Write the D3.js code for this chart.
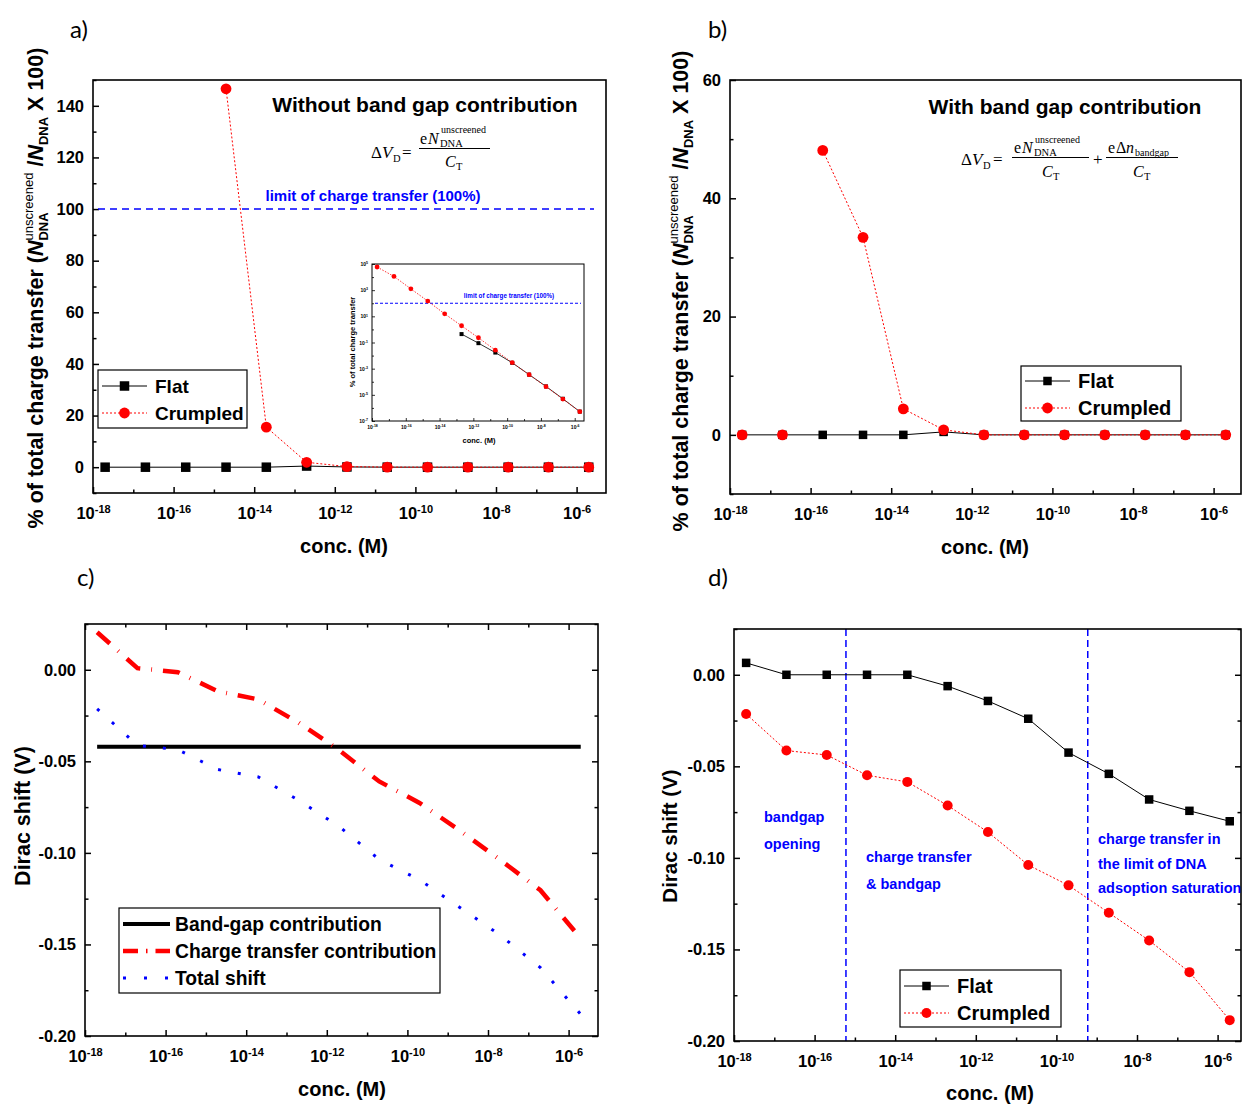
<!DOCTYPE html>
<html><head><meta charset="utf-8">
<script src="https://cdn.jsdelivr.net/npm/d3@7"></script>
<style>body{margin:0;background:#fff}svg{display:block}</style>
</head><body>
<script>
// Concentrations (M) shared by every panel
const conc = [2e-18, 2e-17, 2e-16, 2e-15, 2e-14, 2e-13, 2e-12, 2e-11, 2e-10, 2e-9, 2e-8, 2e-7, 2e-6];

// a) % of total charge transfer, without band gap contribution
const flatPctA     = [0, 0, 0, 0, 0, 0.44, 0.089, 0.017, 0.0028, 0.00035, 0.000044, 0.000005, 0.00000052];
const crumpledPctA = [58900, 11200, 1260, 146.6, 15.5, 1.9, 0.23, 0.026, 0.0029, 0.00035, 0.000042, 0.0000047, 0.00000052];
const limitPct = 100;

// b) % of total charge transfer, with band gap contribution
const flatPctB     = [0, 0, 0, 0, 0, 0.5, 0, 0, 0, 0, 0, 0, 0];
const crumpledPctB = [0, 0, 48.1, 33.4, 4.4, 0.85, 0, 0, 0, 0, 0, 0, 0];
const crumpledLinkStartB = 2;   // connecting line of the crumpled curve begins at 2e-16 M

// c) Dirac shift contributions (V)
const bandGapShift        = [-0.042, -0.042, -0.042, -0.042, -0.042, -0.042, -0.042, -0.042, -0.042, -0.042, -0.042, -0.042, -0.042];
const chargeTransferShift = [0.0205, 0.0009, -0.0013, -0.0118, -0.0162, -0.0289, -0.0438, -0.0610, -0.0727, -0.0878, -0.1038, -0.1204, -0.1467];
const totalShift          = [-0.0213, -0.0413, -0.0436, -0.0545, -0.0585, -0.0713, -0.0855, -0.1036, -0.1147, -0.1298, -0.1449, -0.1627, -0.1882];

// d) Dirac shift (V), flat vs crumpled
const flatShift     = [0.0065, 0.0, 0.0, 0.0, 0.0, -0.0062, -0.0143, -0.0240, -0.0425, -0.0541, -0.0681, -0.0743, -0.0800];
const crumpledShift = [-0.0214, -0.0414, -0.0438, -0.0549, -0.0585, -0.0714, -0.0859, -0.1039, -0.1150, -0.1300, -0.1451, -0.1624, -0.1886];
const regionBounds  = [6e-16, 6e-10];

// tick values
const xMajorExp = [-18, -16, -14, -12, -10, -8, -6];
const xMinorExp = [-17, -15, -13, -11, -9, -7];
const yMajorPct = [0, 20, 40, 60, 80, 100, 120, 140];
const yMinorPct = [-10, 10, 30, 50, 70, 90, 110, 130, 150];
const yMajorPctB = [0, 20, 40, 60];
const yMinorPctB = [-10, 10, 30, 50];
const yMajorV = [0, -0.05, -0.10, -0.15, -0.20];
const yMinorV = [0.025, -0.025, -0.075, -0.125, -0.175];
const insetYExp = [5, 4, 3, 2, 1, 0, -1, -2, -3, -4, -5, -6, -7];

const SANS = "'Liberation Sans', Arial, sans-serif";
const SERIF = "'Liberation Serif', 'Times New Roman', serif";
const TAG = "Lato, 'Open Sans', sans-serif";
const RED = "#ff0000", BLUE = "#0000ff";
const DECADE_PX = 40.3;
const pow10 = e => Number("1e" + e);
const fmtV = d => d3.format(".2f")(d).replace("\u2212", "-");

const svg = d3.select("body").append("svg").attr("width", 1243).attr("height", 1105)
  .attr("font-family", SANS);

function styleAxis(g, size) {
  g.attr("font-family", SANS).attr("font-size", size).attr("font-weight", "bold");
  g.select(".domain").remove();
  g.selectAll(".tick line").attr("stroke", "#000").attr("stroke-width", 1.5);
  g.selectAll(".tick text").attr("fill", "#000");
}

function expLabels(g, supSize) {
  g.selectAll(".tick text").each(function (d) {
    const e = Math.round(Math.log10(d));
    const t = d3.select(this).text("10");
    t.append("tspan").attr("dy", "-0.55em").attr("font-size", supSize).text(e);
  });
}

function setupPanel(o) {
  const x = d3.scaleLog()
    .domain([1e-18, Math.pow(10, -18 + (o.right - o.left) / DECADE_PX)])
    .range([o.left, o.right]);
  const y = d3.scaleLinear().domain(o.yDomain).range([o.bottom, o.top]);
  const g = svg.append("g");
  svg.append("clipPath").attr("id", "clip-" + o.id).append("rect")
    .attr("x", o.left).attr("y", o.top).attr("width", o.right - o.left).attr("height", o.bottom - o.top);

  // bottom axis
  g.append("g").attr("transform", `translate(0,${o.bottom})`)
    .call(d3.axisBottom(x).tickValues(xMajorExp.map(pow10)).tickSize(-6).tickPadding(14))
    .call(a => { styleAxis(a, 16.5); expLabels(a, 11); });
  g.append("g").attr("transform", `translate(0,${o.bottom})`)
    .call(d3.axisBottom(x).tickValues(xMinorExp.map(pow10)).tickSize(-3.5).tickFormat(""))
    .call(a => styleAxis(a, 16));
  // left axis
  g.append("g").attr("transform", `translate(${o.left},0)`)
    .call(d3.axisLeft(y).tickValues(o.yMajor).tickSize(-6).tickPadding(9).tickFormat(o.yFmt))
    .call(a => styleAxis(a, 16.5));
  g.append("g").attr("transform", `translate(${o.left},0)`)
    .call(d3.axisLeft(y).tickValues(o.yMinor.filter(v => v >= o.yDomain[0] && v <= o.yDomain[1])).tickSize(-3.5).tickFormat(""))
    .call(a => styleAxis(a, 16));
  if (o.mirrorY) {
    g.append("g").attr("transform", `translate(${o.right},0)`)
      .call(d3.axisRight(y).tickValues(o.yMajor).tickSize(-6).tickFormat(""))
      .call(a => styleAxis(a, 16));
    g.append("g").attr("transform", `translate(${o.right},0)`)
      .call(d3.axisRight(y).tickValues(o.yMinor.filter(v => v >= o.yDomain[0] && v <= o.yDomain[1])).tickSize(-3.5).tickFormat(""))
      .call(a => styleAxis(a, 16));
  }
  if (o.mirrorX) {
    g.append("g").attr("transform", `translate(0,${o.top})`)
      .call(d3.axisTop(x).tickValues(xMajorExp.map(pow10)).tickSize(-6).tickFormat(""))
      .call(a => styleAxis(a, 16));
    g.append("g").attr("transform", `translate(0,${o.top})`)
      .call(d3.axisTop(x).tickValues(xMinorExp.map(pow10)).tickSize(-3.5).tickFormat(""))
      .call(a => styleAxis(a, 16));
  }
  const data = g.append("g").attr("clip-path", `url(#clip-${o.id})`);
  return { x, y, g, data, o };
}

function frame(p) {
  const o = p.o;
  p.g.append("rect").attr("x", o.left).attr("y", o.top)
    .attr("width", o.right - o.left).attr("height", o.bottom - o.top)
    .attr("fill", "none").attr("stroke", "#000").attr("stroke-width", 1.6);
}

function titles(p, xLabel, xy, tag, tagXY) {
  p.g.append("text").attr("x", xy[0]).attr("y", xy[1]).attr("text-anchor", "middle")
    .attr("font-size", 20).attr("font-weight", "bold").text(xLabel);
  svg.append("text").attr("x", tagXY[0]).attr("y", tagXY[1]).attr("font-family", TAG)
    .attr("font-size", 24).text(tag);
}

// "% of total charge transfer (N^unscreened_DNA /N_DNA X 100)"
function chargeYLabel(cx, cy) {
  const t = svg.append("text").attr("transform", `translate(${cx},${cy}) rotate(-90)`)
    .attr("text-anchor", "middle").attr("dy", "0.35em")
    .attr("font-size", 21.5).attr("font-weight", "bold");
  t.append("tspan").text("% of total charge transfer (");
  t.append("tspan").attr("font-style", "italic").text("N");
  const sub = t.append("tspan").attr("font-size", 13).attr("dy", 5).text("DNA");
  const sup = t.append("tspan").attr("font-size", 13).attr("font-weight", "normal").attr("dy", -15).text("unscreened");
  t.append("tspan").attr("dy", 10).text(" /");
  t.append("tspan").attr("font-style", "italic").text("N");
  t.append("tspan").attr("font-size", 13).attr("dy", 5).text("DNA");
  t.append("tspan").attr("dy", -5).text(" X 100)");
  sup.attr("dx", -sub.node().getComputedTextLength());
}

function plainYLabel(text, cx, cy, size) {
  svg.append("text").attr("transform", `translate(${cx},${cy}) rotate(-90)`)
    .attr("text-anchor", "middle").attr("dy", "0.35em")
    .attr("font-size", size).attr("font-weight", "bold").text(text);
}

function flatCrumpled(p, flat, crumpled, defFlat, defCrumpled, defCrumpledLine, sq, r) {
  const fl = conc.map((c, i) => ({ c, v: flat[i], i }));
  const cr = conc.map((c, i) => ({ c, v: crumpled[i], i }));
  p.data.append("path").datum(fl)
    .attr("d", d3.line().defined(defFlat).x(d => p.x(d.c)).y(d => p.y(d.v)))
    .attr("fill", "none").attr("stroke", "#000").attr("stroke-width", 1);
  p.data.selectAll(null).data(fl.filter(defFlat)).join("rect")
    .attr("x", d => p.x(d.c) - sq / 2).attr("y", d => p.y(d.v) - sq / 2)
    .attr("width", sq).attr("height", sq).attr("fill", "#000");
  p.data.append("path").datum(cr)
    .attr("d", d3.line().defined(defCrumpledLine).x(d => p.x(d.c)).y(d => p.y(d.v)))
    .attr("fill", "none").attr("stroke", RED).attr("stroke-width", 1).attr("stroke-dasharray", "2,2");
  p.data.selectAll(null).data(cr.filter(defCrumpled)).join("circle")
    .attr("cx", d => p.x(d.c)).attr("cy", d => p.y(d.v)).attr("r", r).attr("fill", RED);
}

function fcLegend(box, rowY, sq, r, fs) {
  const g = svg.append("g");
  g.append("rect").attr("x", box[0]).attr("y", box[1]).attr("width", box[2]).attr("height", box[3])
    .attr("fill", "#fff").attr("stroke", "#000").attr("stroke-width", 1.2);
  const x0 = box[0] + 4, x1 = box[0] + 49, xm = (x0 + x1) / 2;
  g.append("line").attr("x1", x0).attr("x2", x1).attr("y1", rowY[0]).attr("y2", rowY[0]).attr("stroke", "#000");
  g.append("rect").attr("x", xm - sq / 2).attr("y", rowY[0] - sq / 2).attr("width", sq).attr("height", sq);
  g.append("line").attr("x1", x0).attr("x2", x1).attr("y1", rowY[1]).attr("y2", rowY[1]).attr("stroke", RED).attr("stroke-dasharray", "2,2");
  g.append("circle").attr("cx", xm).attr("cy", rowY[1]).attr("r", r).attr("fill", RED);
  g.append("text").attr("x", x1 + 8).attr("y", rowY[0]).attr("dy", "0.35em").attr("font-size", fs).attr("font-weight", "bold").text("Flat");
  g.append("text").attr("x", x1 + 8).attr("y", rowY[1]).attr("dy", "0.35em").attr("font-size", fs).attr("font-weight", "bold").text("Crumpled");
}

function mathText(x, y, s, size, italic) {
  svg.append("text").attr("x", x).attr("y", y).attr("font-family", SERIF).attr("font-size", size)
    .attr("font-style", italic ? "italic" : "normal").text(s);
}
function bar(x1, x2, y) {
  svg.append("line").attr("x1", x1).attr("x2", x2).attr("y1", y).attr("y2", y).attr("stroke", "#000").attr("stroke-width", 1);
}

// ---------------- panel a ----------------
const pa = setupPanel({ id: "a", left: 93, right: 606, top: 80, bottom: 493, yDomain: [-10, 150],
  yMajor: yMajorPct, yMinor: yMinorPct, yFmt: d3.format("d") });
pa.data.append("line").attr("x1", pa.o.left + 5).attr("x2", pa.o.right - 12)
  .attr("y1", pa.y(limitPct)).attr("y2", pa.y(limitPct))
  .attr("stroke", BLUE).attr("stroke-width", 1.5).attr("stroke-dasharray", "7,5");
flatCrumpled(pa, flatPctA, crumpledPctA, () => true, d => d.v <= 150, d => d.v <= 150, 9.5, 5.4);
frame(pa);
pa.g.append("text").attr("x", 373).attr("y", 201).attr("text-anchor", "middle").attr("fill", BLUE)
  .attr("font-size", 15).attr("font-weight", "bold").text("limit of charge transfer (100%)");
pa.g.append("text").attr("x", 425).attr("y", 112).attr("text-anchor", "middle")
  .attr("font-size", 21).attr("font-weight", "bold").text("Without band gap contribution");
mathText(371, 158, "Δ", 17); mathText(382, 158, "V", 17, true); mathText(393, 162, "D", 10.5);
mathText(402, 158, "=", 17);
mathText(420, 144, "e", 16); mathText(428, 144, "N", 16, true);
mathText(441, 133, "unscreened", 10); mathText(440, 147, "DNA", 10.5);
bar(419, 490, 148.5);
mathText(445, 167, "C", 16, true); mathText(456, 170, "T", 10.5);
fcLegend([98, 370, 149, 58], [386, 413], 9.5, 5.4, 19);
titles(pa, "conc. (M)", [344, 553], "a)", [70, 38]);
chargeYLabel(35, 288);

// inset of panel a (log-log)
(function () {
  const L = 372, R = 584, T = 264, B = 421;
  const xi = d3.scaleLog().domain([1e-18, Math.pow(10, -5.45)]).range([L, R]);
  const yi = d3.scaleLog().domain([1e-7, 1e5]).range([B, T]);
  const g = svg.append("g");
  g.append("rect").attr("x", L).attr("y", T).attr("width", R - L).attr("height", B - T).attr("fill", "#fff");
  g.append("g").attr("transform", `translate(0,${B})`)
    .call(d3.axisBottom(xi).tickValues(xMajorExp.map(pow10)).tickSize(-3).tickPadding(4))
    .call(a => { styleAxis(a, 5); a.selectAll(".tick line").attr("stroke-width", 0.8); expLabels(a, 3.5); });
  g.append("g").attr("transform", `translate(0,${B})`)
    .call(d3.axisBottom(xi).tickValues(xMinorExp.map(pow10)).tickSize(-2).tickFormat(""))
    .call(a => { styleAxis(a, 5); a.selectAll(".tick line").attr("stroke-width", 0.8); });
  g.append("g").attr("transform", `translate(${L},0)`)
    .call(d3.axisLeft(yi).tickValues(insetYExp.filter(e => e % 2 !== 0).map(pow10)).tickSize(-3).tickPadding(4))
    .call(a => { styleAxis(a, 5); a.selectAll(".tick line").attr("stroke-width", 0.8); expLabels(a, 3.5); });
  g.append("g").attr("transform", `translate(${L},0)`)
    .call(d3.axisLeft(yi).tickValues(insetYExp.filter(e => e % 2 === 0).map(pow10)).tickSize(-2).tickFormat(""))
    .call(a => { styleAxis(a, 5); a.selectAll(".tick line").attr("stroke-width", 0.8); });
  g.append("line").attr("x1", L + 3).attr("x2", R - 3).attr("y1", yi(limitPct)).attr("y2", yi(limitPct))
    .attr("stroke", BLUE).attr("stroke-width", 1).attr("stroke-dasharray", "3,2");
  const fl = conc.map((c, i) => ({ c, v: flatPctA[i] })).filter(d => d.v > 0);
  const cr = conc.map((c, i) => ({ c, v: crumpledPctA[i] })).filter(d => d.v > 0);
  const ln = d3.line().x(d => xi(d.c)).y(d => yi(d.v));
  g.append("path").datum(fl).attr("d", ln).attr("fill", "none").attr("stroke", "#000").attr("stroke-width", 0.8);
  g.selectAll(null).data(fl).join("rect").attr("x", d => xi(d.c) - 2).attr("y", d => yi(d.v) - 2)
    .attr("width", 4).attr("height", 4).attr("fill", "#000");
  g.append("path").datum(cr).attr("d", ln).attr("fill", "none").attr("stroke", RED).attr("stroke-width", 0.8).attr("stroke-dasharray", "1.5,1.5");
  g.selectAll(null).data(cr).join("circle").attr("cx", d => xi(d.c)).attr("cy", d => yi(d.v)).attr("r", 2.4).attr("fill", RED);
  g.append("rect").attr("x", L).attr("y", T).attr("width", R - L).attr("height", B - T)
    .attr("fill", "none").attr("stroke", "#000").attr("stroke-width", 1);
  g.append("text").attr("x", 509).attr("y", 298).attr("text-anchor", "middle").attr("fill", BLUE)
    .attr("font-size", 6.3).attr("font-weight", "bold").text("limit of charge transfer (100%)");
  g.append("text").attr("x", 479).attr("y", 443).attr("text-anchor", "middle")
    .attr("font-size", 7.5).attr("font-weight", "bold").text("conc. (M)");
  g.append("text").attr("transform", "translate(352,342) rotate(-90)").attr("text-anchor", "middle")
    .attr("dy", "0.35em").attr("font-size", 7.5).attr("font-weight", "bold").text("% of total charge transfer");
})();

// ---------------- panel b ----------------
const pb = setupPanel({ id: "b", left: 730, right: 1241, top: 80, bottom: 494, yDomain: [-10, 60],
  yMajor: yMajorPctB, yMinor: yMinorPctB, yFmt: d3.format("d") });
flatCrumpled(pb, flatPctB, crumpledPctB, () => true, () => true, d => d.i >= crumpledLinkStartB, 8.5, 5.4);
frame(pb);
pb.g.append("text").attr("x", 1065).attr("y", 114).attr("text-anchor", "middle")
  .attr("font-size", 21).attr("font-weight", "bold").text("With band gap contribution");
mathText(961, 165, "Δ", 17); mathText(972, 165, "V", 17, true); mathText(983, 169, "D", 10.5);
mathText(993, 165, "=", 17);
mathText(1014, 153, "e", 16); mathText(1022, 153, "N", 16, true);
mathText(1035, 143, "unscreened", 10); mathText(1034, 156, "DNA", 10.5);
bar(1012, 1089, 157.5);
mathText(1042, 177, "C", 16, true); mathText(1053, 180, "T", 10.5);
mathText(1093, 165, "+", 17);
bar(1106, 1178, 157.5);
mathText(1108, 153, "e", 16); mathText(1116, 153, "Δ", 16); mathText(1126, 153, "n", 16, true);
mathText(1135, 156, "bandgap", 10);
mathText(1133, 177, "C", 16, true); mathText(1144, 180, "T", 10.5);
fcLegend([1021, 366, 160, 55], [381, 408], 8.5, 5.4, 20);
titles(pb, "conc. (M)", [985, 554], "b)", [708, 38]);
chargeYLabel(680, 291);

// ---------------- panel c ----------------
const pc = setupPanel({ id: "c", left: 85, right: 598, top: 624, bottom: 1036, yDomain: [-0.20, 0.025],
  yMajor: yMajorV, yMinor: yMinorV, yFmt: fmtV, mirrorX: true, mirrorY: true });
const lineC = d3.line().x(d => pc.x(d.c)).y(d => pc.y(d.v));
const seriesC = [
  { vals: bandGapShift, color: "#000", width: 4, dash: null, name: "Band-gap contribution" },
  { vals: chargeTransferShift, color: RED, width: 4.5, dash: "17,11,0.8,11", name: "Charge transfer contribution" },
  { vals: totalShift, color: BLUE, width: 3, dash: "3,17", name: "Total shift" }
];
seriesC.forEach(s => {
  pc.data.append("path").datum(conc.map((c, i) => ({ c, v: s.vals[i] })))
    .attr("d", lineC).attr("fill", "none").attr("stroke", s.color).attr("stroke-width", s.width)
    .attr("stroke-dasharray", s.dash);
});
frame(pc);
(function () {
  const g = svg.append("g");
  g.append("rect").attr("x", 119).attr("y", 908).attr("width", 321).attr("height", 85)
    .attr("fill", "#fff").attr("stroke", "#000").attr("stroke-width", 1.2);
  const legendDash = ["", "15,8,1.5,8", "3,18"];
  seriesC.forEach((s, i) => {
    const yy = 924 + i * 27;
    g.append("line").attr("x1", 123).attr("x2", 170).attr("y1", yy).attr("y2", yy)
      .attr("stroke", s.color).attr("stroke-width", s.width).attr("stroke-dasharray", legendDash[i] || null);
    g.append("text").attr("x", 175).attr("y", yy).attr("dy", "0.35em").attr("font-size", 19.3)
      .attr("font-weight", "bold").text(s.name);
  });
})();
titles(pc, "conc. (M)", [342, 1096], "c)", [77, 586]);
plainYLabel("Dirac shift (V)", 22, 816, 21.5);

// ---------------- panel d ----------------
const pd = setupPanel({ id: "d", left: 734, right: 1241, top: 629, bottom: 1041, yDomain: [-0.20, 0.025],
  yMajor: yMajorV, yMinor: yMinorV, yFmt: fmtV, mirrorY: true });
regionBounds.forEach(c => {
  pd.data.append("line").attr("x1", pd.x(c)).attr("x2", pd.x(c)).attr("y1", pd.o.top).attr("y2", pd.o.bottom)
    .attr("stroke", BLUE).attr("stroke-width", 1.5).attr("stroke-dasharray", "7,4");
});
flatCrumpled(pd, flatShift, crumpledShift, () => true, () => true, () => true, 8.5, 5);
frame(pd);
const regionNotes = [
  { x: 764, y: 822, lines: ["bandgap", "opening"], gap: 27 },
  { x: 866, y: 862, lines: ["charge transfer", "& bandgap"], gap: 27 },
  { x: 1098, y: 844, lines: ["charge transfer in", "the limit of DNA", "adsoption saturation"], gap: 24.5 }
];
regionNotes.forEach(n => n.lines.forEach((s, i) => {
  svg.append("text").attr("x", n.x).attr("y", n.y + i * n.gap).attr("fill", BLUE)
    .attr("font-size", 14.5).attr("font-weight", "bold").text(s);
}));
fcLegend([900, 970, 161, 57], [986, 1013], 8.5, 5, 20);
titles(pd, "conc. (M)", [990, 1100], "d)", [708, 586]);
plainYLabel("Dirac shift (V)", 670, 836, 20.5);
</script>
</body></html>
